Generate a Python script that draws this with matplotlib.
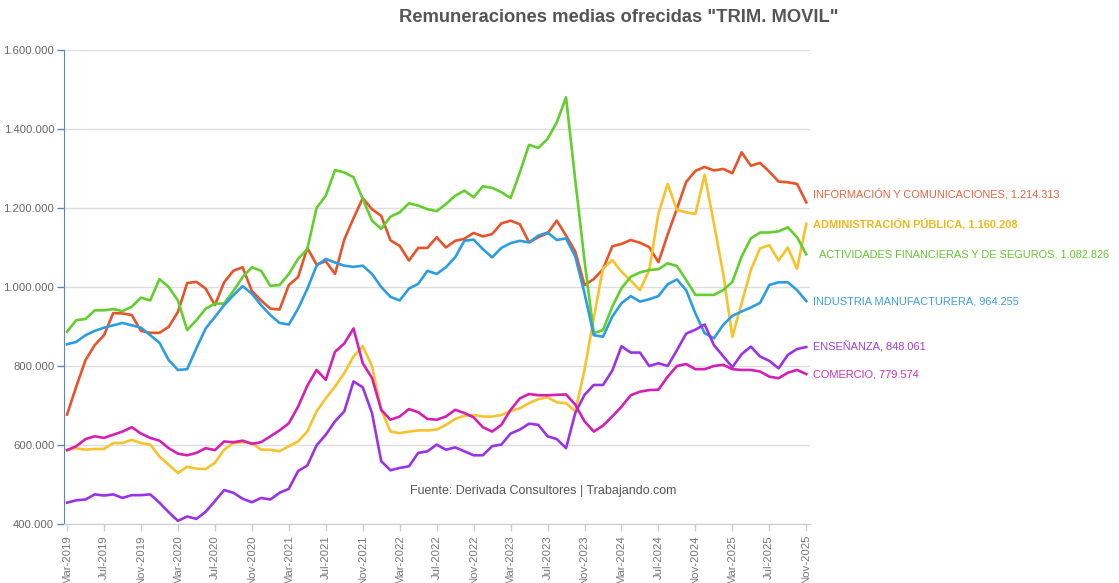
import matplotlib
matplotlib.use("Agg")
import matplotlib.pyplot as plt
import numpy as np

plt.rcParams['font.family'] = ['Liberation Sans', 'DejaVu Sans']

months_en = ["Jan", "Feb", "Mar", "Apr", "May", "Jun", "Jul", "Aug", "Sep", "Oct", "Nov", "Dec"]
# Monthly categories Mar-2019 .. Nov-2025
categories = []
for y in range(2019, 2026):
    for m in range(12):
        if (y == 2019 and m < 2) or (y == 2025 and m > 10):
            continue
        categories.append(f"{months_en[m]}-{y}")

informacion = [677, 748, 815, 853, 878, 934, 933, 929, 889, 884, 884, 899, 937, 1010, 1013, 996,
               954, 1012, 1041, 1050, 990, 966, 945, 943, 1005, 1025, 1099, 1057, 1065, 1033, 1120,
               1174, 1225, 1197, 1180, 1118, 1104, 1067, 1099, 1099, 1126, 1100, 1117, 1122, 1137,
               1128, 1134, 1161, 1168, 1159, 1113, 1126, 1136, 1168, 1130, 1090, 1005, 1020, 1045,
               1103, 1109, 1119, 1112, 1101, 1063, 1133, 1198, 1266, 1294, 1304, 1295, 1299, 1288,
               1341, 1307, 1314, 1292, 1267, 1265, 1261, 1214.313]
administracion = [587, 592, 588, 590, 590, 605, 605, 613, 605, 601, 571, 550, 529, 545, 540, 539,
                  555, 588, 605, 607, 605, 588, 588, 584, 597, 609, 634, 685, 718, 748, 782, 824,
                  850, 800, 689, 634, 630, 634, 637, 637, 639, 651, 666, 674, 676, 672, 672, 676,
                  686, 693, 706, 716, 721, 708, 706, 685, 790, 922, 1047, 1068, 1039, 1016, 992,
                  1043, 1186, 1261, 1195, 1189, 1185, 1284, 1161, 1035, 874, 959, 1043, 1098, 1106,
                  1067, 1100, 1046, 1160.208]
financieras = [887, 916, 919, 941, 941, 944, 939, 950, 973, 966, 1020, 1000, 966, 891, 916, 945,
               958, 958, 990, 1025, 1050, 1041, 1003, 1005, 1033, 1071, 1096, 1200, 1231, 1296,
               1290, 1278, 1223, 1168, 1147, 1178, 1189, 1212, 1206, 1197, 1192, 1210, 1231, 1244,
               1227, 1255, 1251, 1240, 1225, 1290, 1360, 1352, 1375, 1417, 1480, 1270, 1067, 883,
               891, 950, 997, 1026, 1037, 1043, 1045, 1060, 1053, 1018, 980, 980, 980, 992, 1013,
               1077, 1123, 1138, 1138, 1141, 1151, 1126, 1082.826]
industria = [855, 861, 878, 889, 897, 903, 909, 903, 897, 878, 859, 815, 790, 792, 845, 895, 924,
             954, 979, 1002, 983, 954, 929, 909, 905, 945, 995, 1054, 1071, 1062, 1054, 1051, 1054,
             1033, 1000, 975, 966, 996, 1008, 1041, 1033, 1050, 1075, 1117, 1120, 1096, 1075, 1099,
             1111, 1117, 1113, 1130, 1138, 1119, 1123, 1077, 984, 878, 874, 925, 959, 977, 963, 969,
             977, 1007, 1019, 992, 933, 883, 870, 904, 927, 938, 948, 960, 1005, 1012, 1012, 992,
             964.255]
ensenanza = [454, 460, 462, 475, 472, 475, 466, 473, 473, 475, 454, 430, 408, 419, 413, 431, 458,
             486, 479, 464, 455, 466, 462, 479, 489, 534, 548, 599, 626, 660, 685, 761, 746, 681,
             559, 536, 542, 546, 580, 584, 601, 588, 594, 584, 574, 574, 597, 601, 629, 639, 654,
             651, 622, 615, 592, 681, 727, 752, 752, 788, 850, 834, 834, 800, 807, 800, 840, 882,
             892, 905, 853, 825, 797, 830, 849, 824, 813, 794, 828, 843, 848.061]
comercio = [587, 597, 615, 622, 618, 626, 634, 645, 629, 618, 611, 592, 578, 574, 580, 592, 587,
            609, 607, 611, 603, 607, 622, 637, 655, 697, 750, 790, 765, 836, 857, 895, 807, 770,
            689, 664, 672, 691, 683, 666, 664, 672, 689, 681, 670, 645, 634, 651, 689, 718, 729,
            726, 726, 727, 728, 702, 660, 634, 649, 672, 697, 726, 735, 739, 740, 773, 800, 805,
            792, 792, 800, 803, 792, 790, 790, 786, 773, 769, 783, 790, 779.574]

series_names = ["INFORMACIÓN Y COMUNICACIONES", "ADMINISTRACIÓN PÚBLICA",
                "ACTIVIDADES FINANCIERAS Y DE SEGUROS", "INDUSTRIA MANUFACTURERA",
                "ENSEÑANZA", "COMERCIO"]
series_values = [informacion, administracion, financieras, industria, ensenanza, comercio]
line_colors = ["#E8532A", "#F7C22B", "#62CF2E", "#2C9DE2", "#9B32E6", "#D21FB4"]
label_colors = ["#E8643F", "#F2B71A", "#62C830", "#3A9FE0", "#A03EE0", "#CF2EB5"]
label_offsets = [(5, 6.5), (5, 0), (9, 0), (5, 0), (5, 0), (5, -0.5)]
label_weights = ["normal", "bold", "normal", "normal", "normal", "normal"]

y_ticks = [400000, 600000, 800000, 1000000, 1200000, 1400000, 1600000]
x_tick_idx = list(range(0, 81, 4))

fig = plt.figure(figsize=(11.19, 5.83), dpi=100)
ax = fig.add_axes([64/1119, 1 - 524/583, (810-64)/1119, (524-50)/583])

x = np.arange(len(categories))
for vals, col in zip(series_values, line_colors):
    ax.plot(x, np.array(vals) * 1000, color=col, lw=1.9, solid_joinstyle='round', zorder=3)

def fmt(v):
    return f"{int(round(v)):,}".replace(",", ".")

for name, vals, col, off, wt in zip(series_names, series_values, label_colors, label_offsets, label_weights):
    v = vals[-1] * 1000
    ax.annotate(f"{name}, {fmt(v)}", xy=(x[-1], v), xytext=off, textcoords="offset points",
                ha="left", va="center", color=col, fontsize=7.95, fontweight=wt,
                annotation_clip=False)

ax.set_xlim(-0.33, 80.4)
ax.set_ylim(400000, 1600000)
ax.set_yticks(y_ticks)
ax.set_yticklabels([fmt(v) for v in y_ticks])
ax.set_xticks(x_tick_idx)
ax.set_xticklabels([categories[i] for i in x_tick_idx], rotation=90)
ax.tick_params(axis='y', colors="#5B86C0", labelcolor="#666666", labelsize=8.1, length=5, width=1, pad=2)
ax.tick_params(axis='x', colors="#CCCCCC", labelcolor="#777777", labelsize=8.2, length=5, width=1, pad=3)
ax.grid(axis='y', color="#DDDDDD", lw=1)
ax.set_axisbelow(True)
for s in ["top", "right"]:
    ax.spines[s].set_visible(False)
ax.spines["left"].set_color("#5B86C0")
ax.spines["bottom"].set_color("#CCCCCC")

ax.text(0.642, 0.07, "Fuente: Derivada Consultores | Trabajando.com", transform=ax.transAxes,
        ha="center", va="center", fontsize=9, color="#555555")

fig.text(619/1119, 1 - 17/583, 'Remuneraciones medias ofrecidas "TRIM. MOVIL"', ha="center", va="center",
         fontsize=13.2, fontweight="bold", color="#555555")

fig.savefig("out.png", dpi=100)
